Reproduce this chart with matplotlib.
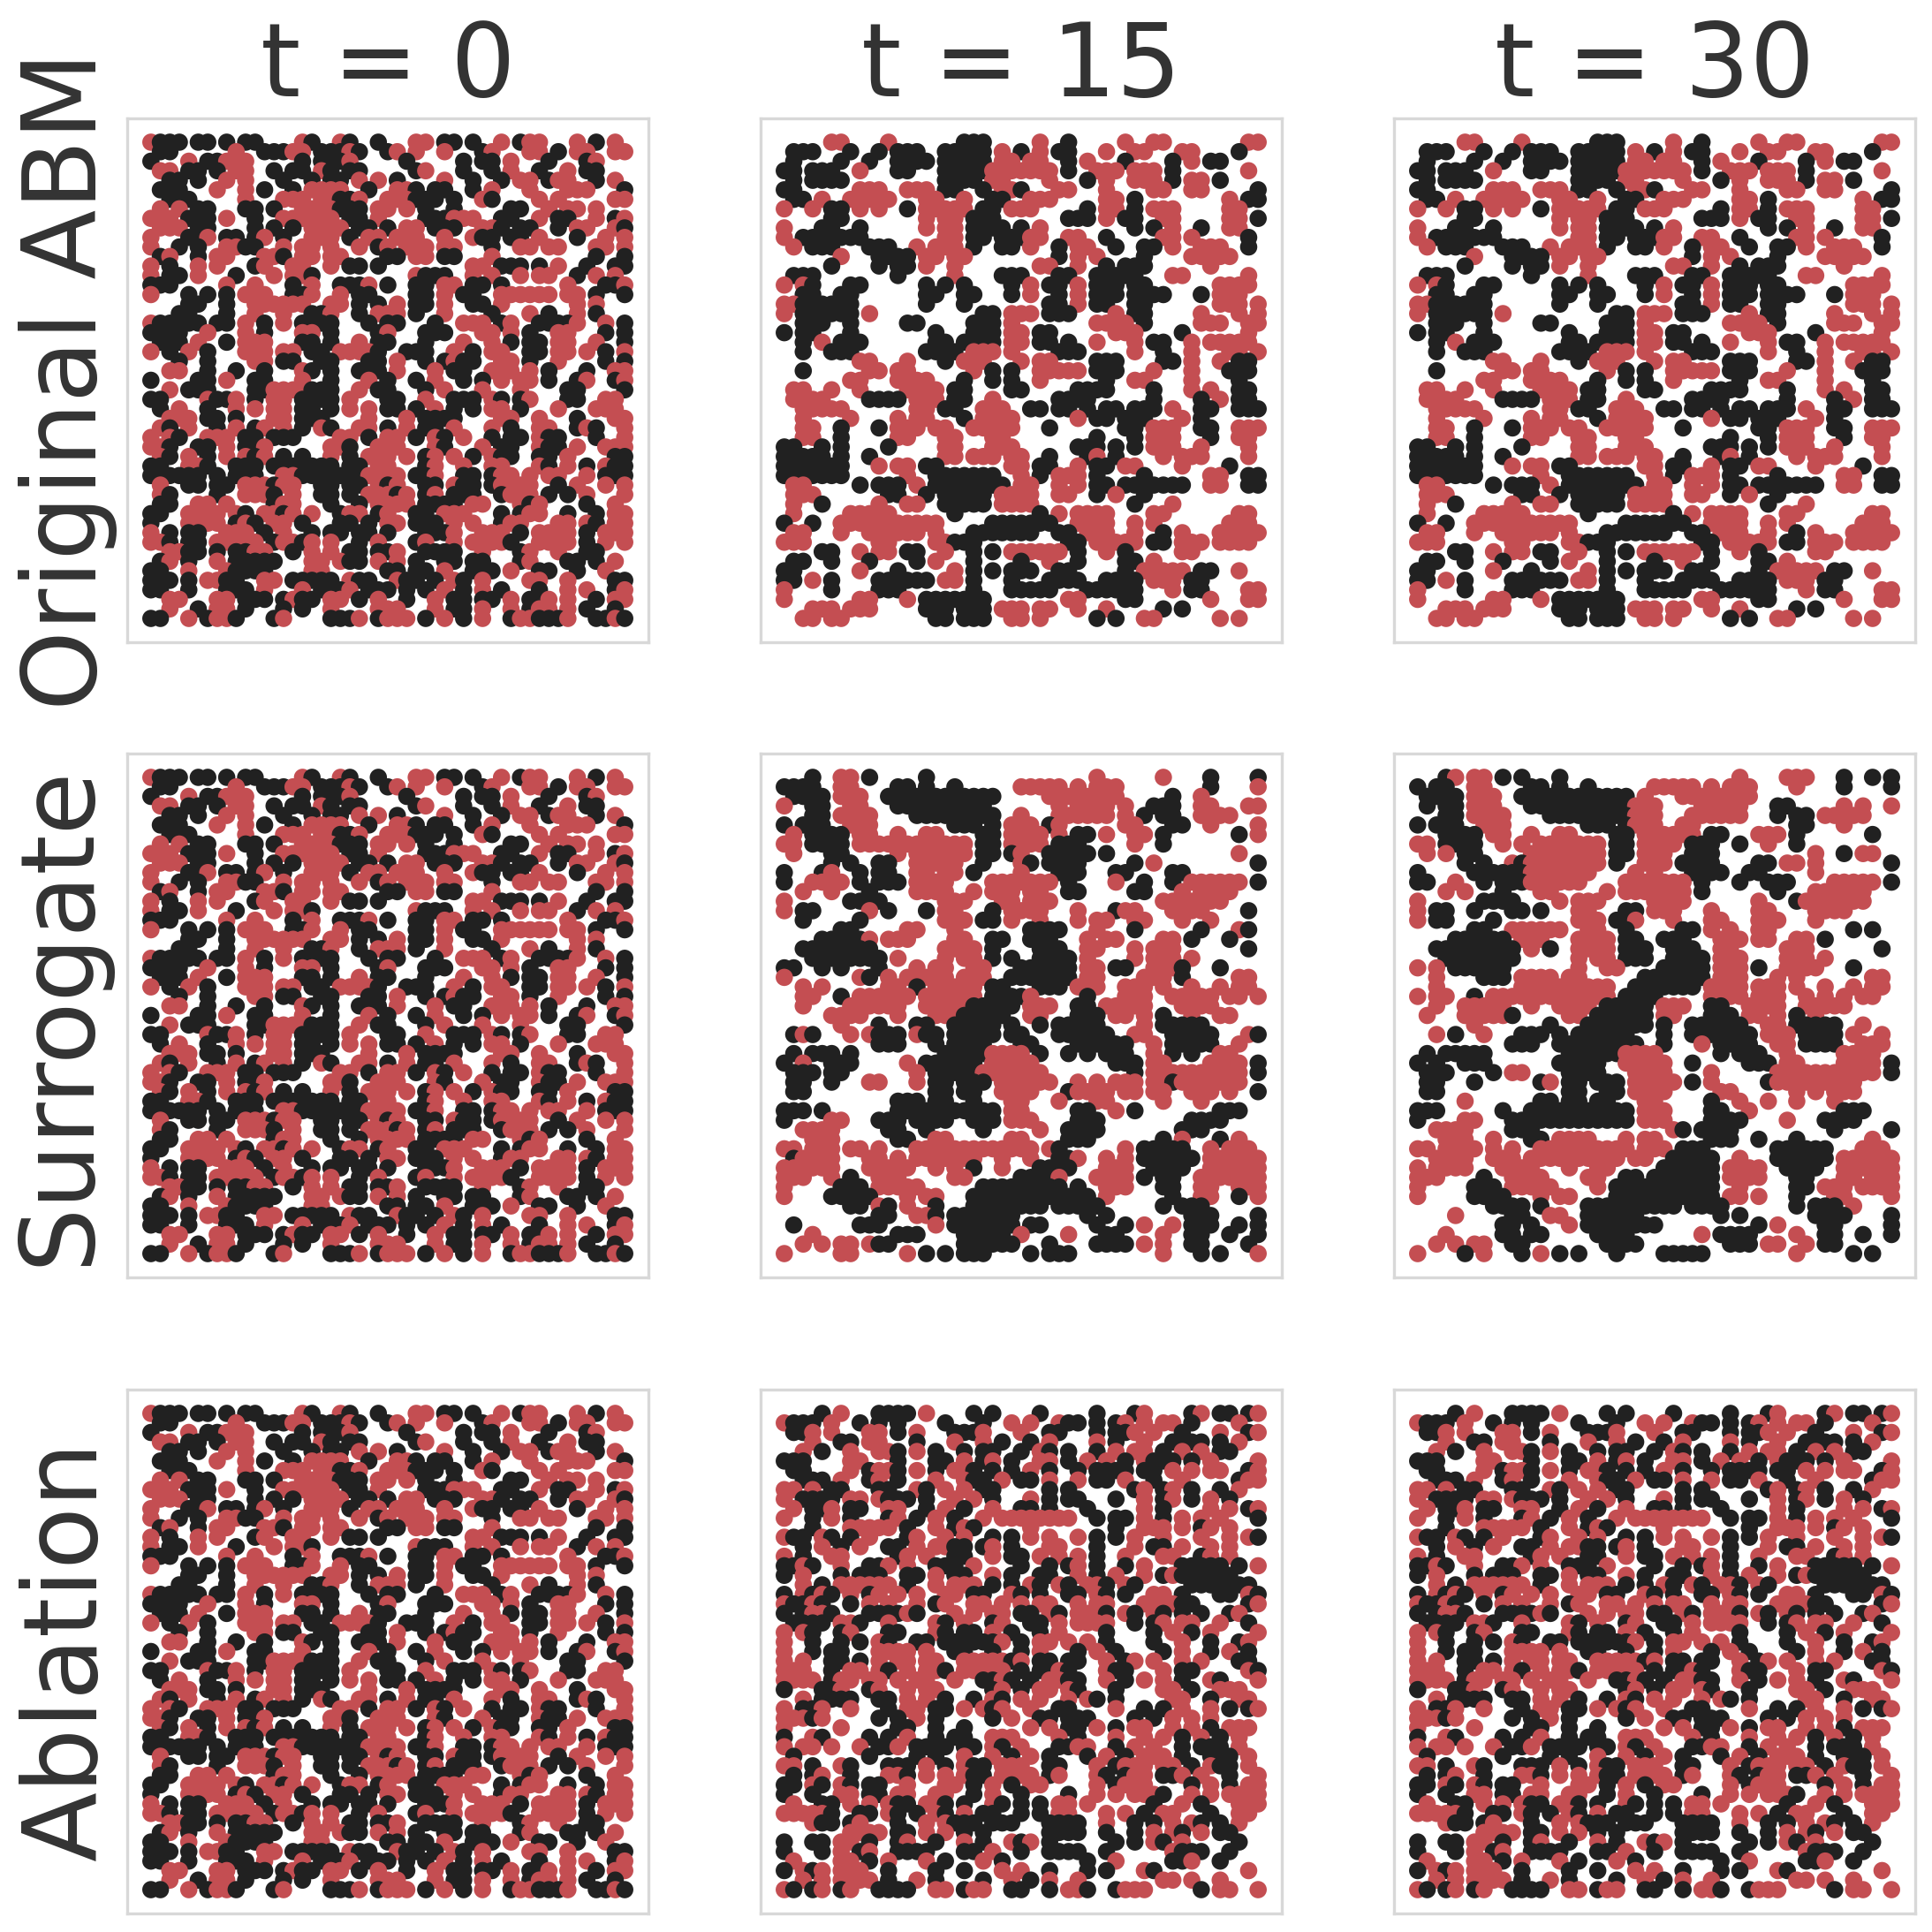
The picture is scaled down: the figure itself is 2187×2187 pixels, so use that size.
import matplotlib
matplotlib.use('Agg')
import matplotlib.pyplot as plt

# grid cells, top row first: b = black agent, r = red agent, . = empty
# spaces every 10 cells are only there to keep count
init_t0 = [
"rbbb.bb.b. bb....rb.. rb..b...rr .bb.b..r.b rr...r.b.r .",
".bb......r ..bbbrr.bb brb..br.r. .r...br... rr.b.rr..r r",
"b...r.bbrr r.....b.bb br.....b.. ...b.bb.r. ..b...br.. .",
".rr.bb.b.r r..b.bb.rb .bb.....br ...b..b.r. .b..r.bb.. .",
"..bb.b..r. r...b..b.b b.r.r.b... .r..b..b.r r.brr..b.r .",
".bbb...r.. r.b..b.rrr r..b..rrb. bb..b.r... r...rrr... b",
"..bbb..... r...rrr.rr bbr..rrrbb b.b..rb... .r.r.....r r",
".r.r.bb... bb.b..rrrr bbb.rr.r.b ..b.....bb ..r.rr.r.. .",
"rrr.bbb.r. .b..rrrrrr .bb.r....b bbrrr..bb. .r.bb..r.b r",
".rrr.bb... .b.b.b.rrr r.bb.b.rr. bbb..rrb.b b..b.rr..r b",
"r...bbr.bb .br.b..rrr .b.rr.rrr. .r..rbb.bb .r...b..r. r",
"r..b.b..rr bb..r.rr.r ..r.br.rrr .rr...b..r r.rr...rr. r",
".br..b.rr. ..rrb.rr.r r....bb.rr .bb...r... .......b.. b",
"r.b..r.r.. .br..rr..r .bb.b..... ....rr.bbb .b.r..b..b b",
"r.bb.r...b ...r.rrb.. ........rb bb..r.r..r .rr..b.r.r .",
"bbb.....r. .r...b.r.. bbbr.b..bb .rr.bb.b.. ....r...bb r",
"r...b.b.b. rrr..bbr.. r.bb....bb .r.bb..rrr rrr.rr.b.. b",
"....bb..b. .rrrrrr..r r.b.b.r.bb .r..bb.r.. .....r.r.. .",
"...bb...b. .r..r..bbr ..b.rrr.b. .r....b... r.b..r.b.. .",
"rbbbbb.bb. r.b.r.bbbb ...b.bb... b..rrr.br. .bbbbr..r. b",
"bbbb..r... r.b...rr.b ....br...b bb...rr.r. b..rr...b. b",
".bbb.r..b. rrr...bb.b ..r.bb...b ...r..r.b. bb.rr..r.. b",
"r.b.r.b... rrr.rr.bb. rrrrb..bbb ..r.b.rr.. bb.rr.r.b. r",
"...b..b... .rr.bb..bb ...bb.r..b .brbb..rr. b..r....b. b",
"..rr..b..b ..b...rb.b ..bbb.r... r.bb..rrr. r.b...b..r r",
"b....bb.r. .bb...r..b ...r.b..b. r..b.b.r.r r.b..br..b r",
"..r.bbb... .bbrrrrbbb ..r.bb...b .r...r...r ....bb.... b",
"bb....rbbr .b.rr.bbbb .r...bb..r ..bbb.rb.b r...bb..rr .",
".b.r..b..r .r.rr.bb.b .r.r.bb.b. r.b.b.rr.b ...r...rrr .",
"..rrr.bb.b ...rr.bbb. ...r...r.b bbb....rr. .r...b...r r",
".rb.r..b.r .br.r.b.rb ..rr.b.r.b b.r...r.b. .rr..brb.. r",
"r.rb..rrr. bb.bbb.... rr.b.rr.b. rb.r..b.bb .rbb...b.. r",
"rrb..bb.r. bbr......r rb..rrr... rb...r.bb. .rbb.r..rr r",
".rb.r.b.r. rbr.b.b..r .b.rrr.r.b r.r.b.rbb. .bb.r....b b",
"bb..rrb..b bb.bbbbbbb .bb.rr...b r..r..rr.. .rb.r.b.rb b",
"bbbbbb.b.b bb..rrbbbb bbbrrrr.bb r..bb.brr. r.rr..r.bb b",
".r..bb.bb. rrrbrr..bb .bb.rbr..b b.rbb.brrr r..b.r..r. r",
".rb....b.. rrrb.r..bb .b.rrrbr.b r.bbb..brr r.b.b.r... r",
".bb..rr.r. ...brr...b ..b.rrrr.b bbb.rr...r br....b..r .",
"bb..rrrr.r b.rrbr.r.. brr.br..bb .rrr...b.b rr..b..b.r r",
"b...rrrr.b rb.rr.b... bb.b.rr.bb b.r.r..brr ...rr.rb.r r",
"r.b.bb..rr r.b.r..b.b b.bb.b...b bbr..rrr.b .rrrr.b.rr r",
"rrb.bb.rrr rr.brrbr.r ..b.r...br ..r.rrrrb. .rrrr.b.r. r",
"..rrbb.b.b brr..b.r.r .bb.bbr..b bbb..r...b r..r..bb.. .",
".br.b..r.b bbbb...rr. rbb.r.r.b. .bb.bb...b r...bb.b.r .",
"bb..r...rb bbb....rr. .....bb.bb .r..bbb.r. .bb..b..r. .",
"bbb.b.rrbb ..rr.bbbbb .rbb..rbb. b.rb.r.... rr..r....b b",
"bb..b...bb b.r...r.bb br.bbb.b.b .r.b.r.b.. .b..r.r..b r",
"..rr...rr. bbb.brbb.r r.b.r..b.. r.bb.bb.r. bbr.r..b.r r",
"..r..b.rr. b...b.b..r ....rrr... r.bb.r..r. brr.r.b..b .",
"bb..r.brrb ...br....b bbr.brrr.b .r.b.r..br rbbbr..bbr b",
]

orig_t15 = [
".....rr... .r.......b bb.....r.. b.....r..r r........r r",
".bbb...b.. b.bbb..bbb bb.r.b.r.b b...r..rr. ..rr....b. .",
".b....b..b ..bbbb.bbb bb.rr.rr.. b.r...b... .b.r.bb... .",
"bb.bbb..r. ..bb...bbb bbrrrrrrr. b..rrr.rrr .b.......r .",
".b.bbbb... .......bbb b.rr....r. ..b.r..rrr .b.rr.b... .",
"bb......rr r..rrr.bb. .b.rrb...r r...r....r r..rr..... b",
".bb.r..rrr rr...rr..r ..bb..rrr. ....rr.b.. .......r.b b",
"r..r.bb.r. r..b.rrrrr .bb.rrr... ..b.rr.b.r rr.....rr. .",
".....bb... .....r.rr. bbb....... bbb.r.bb.. rr.....rr. b",
"r...bb..b. .....r.rr. bbbb.b.r.. .......b.b .r..b..rr. .",
"r.bbbbbbb. .......rr. bb.bbbrr.. rr..b..... rr.r.....b .",
".r.bbb...b bb..r.rrr. b..bb.r..b .rr..b..bb .r..rrr..b .",
"......r... bbbb.rr.rr .........b .r.r....b. ...rrrrr.. .",
".....b.... b.bb.r..r. .......rr. .r..b.bbb. .....r.... .",
".bbb...... ..b.....r. ...bbb...b b..bbbbb.. .rr......r .",
"r.rb...bb. .....b.b.b ....b.r.bb .r.bbb.bb. ......rrrr .",
"..bb..bb.. .....bb..b b...b.r..b .r.bbb.bbb b...b.rrr. .",
"rrbbbbbb.. .....b...b ........bb .r.bb..bb. ......rrr. r",
"r.bbbbbb.r .......... .bb.rrr.bb b....r.bb. ....r...r. r",
"..bbb..b.. ...bb..... bbb.r..... ...rrrr.b. ....rrr..r r",
"b.bb...b.. ......b... bbb.rr.bb. .....rrr.. ..b......r .",
"..b.r.bbb. ......bb.b bbb.rr.bb. b..r...r.b b..r.rrrrr .",
"..b..bbb.. .....bbbb. rrr.r....b bb.....r.. b..r...rr. r",
"........rr ...r...b.r rr...r.rr. ...bbb.... bb.r..r.bb .",
"..b......r r.rr...... r.b.b..rrr rr.bbb...r ...r...bbb .",
".......rr. ..rrrr...b ..b.b..r.. ....b..rr. ...r....b. .",
".rr..r..r. ...rrrr.bb ....bb.... .bbbb....b ...r.r..bb .",
".rrrr....b bbb.rrr.bb ..r......b bbb......b ....b.r.bb .",
"..rrrrr... ....rr.bb. .rrr..bb.b b.b.bb.bbb .r..bb..bb b",
"..r....r.. ..r.rr...b .rrrr..... .r.bb.bbb. ..r.b..... .",
"..rr..b... b.rrr.rr.. rrrrr...b. ......bb.r rr..bb..rr r",
"..rr..b... ..rr...rr. ..rr...... ...b...b.r rr...b..rr .",
"bb..b.b... .b.....rr. ..rrr..... .bbb.b.b.r rr..r....r .",
"bbbbb.b..b .......rr. rrr.rr..b. ..br.b.... r.rrr....r .",
"bbbbbbb... r.rr.bb... ....rr.bb. .r.bb.rr.. ..r....b.. .",
"bbbbbbb... ...r..bbbb bbb..r.b.r rr.b....b. .....rr..b b",
".rr.....b. bbb.r.bbbb bbbb.rr..r .r.bb.bbbb bbb..rr..b b",
".rrr...... .bb..b.bbb bb.rrrr..r r..b.r..b. .......... .",
".r..b..... r..rr..bbb bb.rrrr... .......b.. .r........ .",
".r.....rrr rr......b. .......b.r .rrrr....r r.......rr .",
"b..b..rrrr rrrrrrr... ..bbbbbbb. .rrrr..r.r .......rrr .",
".rr...r..r rrrrr.r... bbbbbbb..b b.rrr..r.. b.r...rrrr r",
"rrr....... rr....rrbb b......... bb.rrrrr.b b.rrr.rrrr .",
"....bb..r. rr.bb..r.. b.b.rrrrrr .b..r.b... ..rr...... .",
".bb..b...b ....b.r... b....b..r. .b....bb.r .......... .",
"bb......r. ..b.....r. b.b.bbb..b b.....b.rr rrr.bb..r. .",
"bb.r.b.... bbbbbb.rr. b...b...bb bb..bbbb.r rr.bb..... .",
"r....b.... bbb....... b...bbbbb. ..bbbbbb.. .r.bb....r r",
"r.......rr ...r.bbbbb bb........ rr....bb.. .....r...r r",
"...rrr.rrr .....bbb.b bb.rrr.rr. .r..r..... b.b....... .",
"..rr.rr... ......bb.b bb..rr.r.. ...b.b..rr ......r.r. .",
]
orig_t30 = orig_t15  # almost no change between these two panels

surr_t15 = [
"...b..rr.b .....b.... .......... ...r...... r....b.... b",
"bbbb..rr.. ..bb.b..b. .....rrrrr .r.rrr.... .....b.... r",
".bbbb.rrr. .bbbbbbbbb bbb.....rr rrrrrr.... .b..r..... .",
"r..bb..rr. ..bbbbbbbb bb.......r .rrrr.r..b bb..rr...r r",
"...bb.rrrr ....bbbbbb bbb..r...r rrrrr.r.b. bb..rrrr.. .",
"b.bbb..rrr ........bb b.b.rrr.br ......rr.. .bb..r.... r",
".r.bbbb.rr ..r..rr... .bb.rrrr.r .bb.r..rr. b.......b. r",
"rr.bbbb.rr rrrrrrrrrr .bb.rrrr.b bb.....r.. b......... .",
".r...bb... ..r.rrrrrr .bb.br..bb bbb.b..... ........r. .",
".....b.b.. bb..rrrrr. .b...rb.bb bb.....b.r .......... b",
"b...br..b. bb..rr.rr. b....r...b bb...bb... .bb....... .",
"b..rrrr.b. bbb.rrrr.. ..rrrrrrr. b....r..b. .b.rrrrrr. b",
"..r..r...b ....rrrr.. r.rrr.rr.. bb.....bb. ..r.rrrr.. .",
"r......bbb b......rrr ...rr.rrr. .......... rrrrrrr... .",
"r.bb.....r .b...b.rr. ..b.rrrr.. .r...brr.. .rrrr....b .",
"..b.....b. .......rrr .bb.r..r.. .r.rr..rr. ..r..r.... .",
"......bb.. ...rr...r. ......bbbb ...r...b.. ....b...rb .",
"....bbbbbr .rrr....rr ..bb..bbb. ..r.rr.... rr.b...b.. .",
"..bbbbbbbb .......rrr r.b....bbb ..rr...r.r rr.......b .",
"...bbbbbbb b.r....r.r r.b.b..bbb b.r....r.r rr.r...... .",
"bb..b.b... b...r.rr.. rr...bbbbb b.rr.bb..r rrb...b... .",
"r.......rb .r.rrrrr.r rr..bbbbbb b.rr....rr r.b.....rr .",
"..r.r..... .rr.b.rrrr r.bb...bbb .rrr..rrr. r..r..r.rr .",
"..rr..b.rr rrrr.rrrrr r.bbbbr... ..b...rrr. .rrrrr.rr. r",
"..r....rrr rrr..rrrrr bbbbb.rrr. .bb.rrrrr. ..rrrr.... .",
".....rrrr. ..r...rrrb bbbb..rr.. .bbb.rr.r. b..r..rr.. .",
"......r... b...bb..bb bbb.b..b.b bbbb....r. bbbbb..... .",
".brb...r.r bbb.rbb.bb bbb.bb...b bbbbb..rr. .bbbbb...r b",
".......... bbb...b.bb bb...bb... .bbbbbb..r .bbbbb..r. .",
".b.bbb.b.. .......bbb bbrrrr.b.. b.b.bbb..r .b.b..rr.. .",
"b.r..bbb.. ...r.bbbbb b.rrrrr... .....bbb.r r....rrrr. b",
".bbb.bb... ....r.bbbb brrrrrrr.. .......b.r rrrrrrrrr. b",
".bb..b...r r...r.bb.b bb.rrrrrr. .r.r.rrr.r rbrrrrrrr. .",
".bb....... ......bb.b b..rrrr... brrrr.rr.r r..rrr.r.. b",
".......... ..bbb.bb.. b...rr...r ...rr..... r...r..... .",
"bbb.b..... ..bbbbbbbb bbb.rr.... .bb..r.b.. ......bbb. .",
"b....rr... bbb.bbbb.. bbb.rrr... .bbb...... ...bbbb... .",
"..rrrr.... .bb..b.... .b.....r.. bbbb...... ..bbb..... .",
"...rrr.... ..bb..rr.. ....rr.... bbb....... b.r...b.r. .",
"rr.rrr.rr. r...rrrrrr rrrrrrr.rb ......r.bb bbb..r.rrr .",
".brrrr...r r.r.rrrrrr r..r..r..b br..r.r.bb bbbb.rrrrr r",
"rrrrrr...r rrrr..r.r. b..r...bbb b...rrr..b bbb..rrrrr r",
"rrr..r.b.. rrr.....rr .....bbbbr ...rrrr.b. bb..rrrrrr r",
"r.....bbb. rrrrr..... .bbbbbbbbb .b..rrr... bb..rr..rr r",
"r....bbbbb ...r.rr... bbbbbbbbbb bbb.r..... .b..rr..b. r",
".......bb. rb.r..b... bbbbbbbb.b bbbb...... b.bbb..... .",
".......... bb..rrb.bb bbbbb..... ..b.b..... ...bbb.... b",
".b......bb b.....r.bb bbbbb.bb.. ...b..b.r. .r.bbb..b. b",
"...r...... ..bbb....b bbbb.r.... r...bb.... r..bb..b.. b",
"..r.r.rr.r bb.......b bbbbb...b. ...bbbb.r. r..bb....b .",
"r.....rr.. ...r.b.b.b bb....b.bb b......... r...b.b... r",
]

surr_t30 = [
"...br.rr.b .b...b.... .......... ....r....r rr...b..b. b",
"b.bb..rr.. ..bb.b..b. .....rrrrr .r.rrr.... r....b.... b",
".bbbb.rrr. .bbbbbbbbb bbb.r...rr rrrrrr.... .......... .",
".b.bb.rrr. ..bbbbbbbb bbbrrr.... rrrrr...bb .....r.r.. r",
"...bb.rrrr ....bbbbbb bbbrrr...r rrrrr...b. bb.rrrrr.. .",
"b.bbb..rrr ........bb b.brrr..rr .......... bb...r.... .",
"...bbbb.rr ..r..rr... .bb.rrrrrr .bb...rrr. b.......b. .",
"rr.bbbb..r .r.rrrrrrr .bb.rrrr.b bb..b..r.. b......... .",
".r.r.bb... ..rrrrrrrr .bb.rrr..b bb........ ..r..b.rr. .",
".....b.b.. rbrrrrrrrr .b..rrr.bb bb....bb.r r.r....... b",
"b.....bbbb bbrrrrrrr. ...r.r...b bbb..bb... ..r....... .",
"bb..r..b.b bbrrrrrr.. ..rrrrrrr. b...b..bbb ....rrrrr. b",
"...r.r...b ...rr..... r.rrrrrrr. b.......b. ..rrrrrr.. .",
"r......bbb b....r.rrr .....rrrr. ......r... brrrrrrr.. .",
"r.bb..b... bb.b...rr. ..bb.rrr.. .r....rr.. ..rrrr.... .",
"r.bb....b. .......rrr .bbr...r.. .rr...rrr. ..r....... .",
"......bb.. rrrrrr..rr ..b.....bb .r.r..rr.. ......b.b. .",
"....bbbbbb .rrr...rrr r.bb..bbb. ..rrr.rr.. rr.b...... .",
"..bbbbbbbb b.r.b..rrr r.bbb..bbb ..rr.....r rr.......b .",
"...bbbbbbb b......r.r r.bbb..bbb b.rrr....r rr.r...... .",
"r.r.bbbbbb .......r.. rr....bbbb b.rrr.b..r rrr...b... .",
"..r....bbb .rrrr.rr.. ....bbbbbb b.rrr...r. r.......rr .",
"..r....... .rrrrrrrrr r..bbbbbbb .rrrr.rrr. r..r..r.rr .",
"r.rr..b.rr rrrrrrrrrr r.bbbb.... .rrrr.rrr. .r.r.r.rr. .",
"..r..rrrrr ..r..rrrr. bbbbb.rrr. .bb..rrrr. .rrrrr.... .",
".r...rrrrr b.....rr.b bbbbb.rr.. .bbb.rr.r. b.r....... .",
"......r... ....b...bb bbbbb.b..b bbbbb..rr. bbbbb..r.. .",
"..r.b..r.. .bbb.b.bbb bbb...b..b bbbbbb.rrr .bbbb.r..r .",
".......... bbb..bbbbb bbbb..b... r.bbbb..rr .bbbb..rrr .",
".b.bbbbb.. ......bbbb bbrrrr.... ..b.bbb..r .....rrrr. .",
"b.b..bbb.. .....bbbbb ..rrrrr..b .....bbb.r r....rrrr. b",
".bbb....b. rr....bbbb ...rrrr... .r......rr rrrrrrrrr. b",
".bb...b... ...br.bb.b bb.rrrrr.b .r.....brr rrrrrrr... .",
".bb....... ......bb.. bb.rrrr... ..rr...... r.r.rrr... .",
".....r.... ...bb.bb.b b...rr.... .b..r..r.. r...r..... .",
"bbb......b ..bbbbbbbb bbb.rrr... .bb..r.... .....bbb.. .",
"b....rr... bbbbbbbbbb bbb.rrr... .bbbb....r ...bbbb... .",
"..rrrr.... bbb....... .......rb. bbbb...... ....b..... b",
"...rrr..r. ..bb.rrrr. ..r.rr.... .bbb..b... b.......r. .",
"rr.rrrr.r. r..rrrrrrr rrr.rrr.bb b.......bb bbbb...rrr .",
"..rrrr..rr r.rrrrrrrr rr.rr..bbb bb..r...bb bbbb.rrrrr r",
"r.rrrr...r rrr...r..r r.....bbbb bb.rrrr..b bbb..rrrrr r",
"rrr....b.. rrrr....rr ..bb.bbbbb bb.rrrr... bb...rr.rr r",
"r.....bbb. rrrrr....r .bbbbbbbbb bb..r..... bb.rrr.rrr r",
"r.....bbbb ...r.rr... .bbbbbbbbb bb.rr.r... b...rr.... r",
"........bb bb.b....bb bbbbbbbb.b bbb....... b.bbb.r... .",
"....r..... bb..rr..bb bbbb...... ..b.b..... ..bbbb.... b",
".........b b.b...r.bb bbbbbb.... ......b.r. ...bb..... b",
"...r.....b b.bb.....b bbb....... r.bbbb.... r..bb..b.. b",
"..r.r.rr.. bb........ bbbb...... ...bbb.rr. .r.bb..... .",
"r....b.r.. .b.r.b.b.. .b....bbbb b......... r.....b.b. .",
]

abl_t15 = [
"....b.r... bbbb.r.... b.b....b.. ...b...br. ...br.bb.b r",
"rbbb.r..b. b.b....b.. .b..r.r..r bb.b.br.r. rr.b....r. .",
".bbr.r...r r.b.r...bb br...r..bb ...b.bbr.r ..b...r..b r",
"...r..bb.r r...b...r. .r.b..b.r. ...r.b..r. .bbbb.b.r. .",
"..r.b..r.. rrb.r.b..b .bb..b.rb. b..b.r.rr. b.r.r.bb.. .",
"bbb....rr. ..b...bb.r .br.b..rr. b.r.r.b.rb bb.b.r.... r",
".bb....r.b rrb.r.b.rr b.b.b.r.b. .b.bbbb.bb .r.r.rr..b r",
"..bbb.r..b r.b...r..r bb.r.bb.r. .r.bb.r..b ..r.....br r",
"rr.r.bb... bb..rb.r.r .bb.....b. b......br. br.b..b.r. .",
"r.bbbb.rr. rbbb.b..r. r.b...r.b. bb...b..r. br.b.r.b.. .",
".r.bbr.bb. .rr..b.r.b ..r..bb.b. ..b.....r. b....r.r.b r",
"r..b.r.b.. .br.b.r.b. .r.rrrrrrr r..b.bb.r. b.r.r.r... b",
"...b...rrr rr.b..r.br b.....r... .....b..rr r.r.br.r.. .",
"rbb.rb.b.r ...br..r.r ..b.b.r.r. .r.b.b.r.. r...r..r.r b",
"..b.r.b.r. .bb.r.rrbb .br.b...rr ...b...r.b b.r..r.r.. .",
"r.b..rr... ..br.r..bb ..r.bb.r.r .r.b..r... rr..br.r.. .",
"bbrb..r..b br.r..bbb. r....b..b. br.b..b.r. ..bbbbb.b. r",
"b.r...b.bb b..bb.r.bb ..r.b..bb. .r.b.r..r. brbbbbbb.. .",
"..r.b.rrrr rr.b..r.rr r.b.b.rb.r b.rrb.rb.. ...bbbbbbb .",
"b.rbrb.r.b r.r.r..rr. bb..rb.b.. bb.rb.b..r r.b...bb.r b",
"rbbrb..b.r .r..r.br.. rr.r.r.rr. .r.rr...rr rrbb.....b r",
"b.brrb...b bbbrb...r. r.rr.bb.rb .rrrb.rb.r b.b.b..br. .",
".bbbb.rrb. .r....rb.r ..br..bb.r .rrrr..b.b r.rr..r..b .",
"r.rb..br.. .bb...rb.b b.r.b..b.r ....b....b .r.b.r.... r",
"r..b..b.b. rb..bb.bbb bbbr.b.rr. r.r.b....b ..r..b..br .",
"r..b.bb... rrrr.r..bb ..b..b.r.. .b.r.b.... b.r..b.r.b .",
"r.r..bb.b. r.rr.rr..r rrrrbr.bb. bb..r.br.r ..r.r...bb .",
"rrr..b.rr. rb.r.rrb.r rrrr.b.bbr b...rbb... r.bb.....r b",
"rrrr.brr.r r.r.rr..r. .bbrb.b.rr bb..r.b.r. r.b..rb... r",
"b...bbr..b r..r.rr... ..br.b.rr. rb...b.... rr.b..rrr. .",
"..r.bbbb.. bb.r.r.b.. b.rb.r.r.. r.rb.b.... .rr..b..rr .",
"r.bbr..r.. .b.rr.bb.r .rbr..r..b b....r..b. b.r..r.b.b r",
"rrrbr..... b.b.r.b... ..b.r..bb. bbb....b.b .r.r.r.... .",
"r.....r... ..bb..b..b ......r.r. bb.r.b.rr. .r.r.b.rrr .",
"b..rb....b .b.r..b.bb ..rrr....r .b...r..r. r.b.r.b.r. .",
"r.rr.r..r. bbr.bbbb.b b.rb.r...b brr..b.r.r ..b.bbb.r. .",
".b.......b ....b.b..r ..r.b.r.b. ..b.r.b.rr r.b..bbb.r .",
"rr.b..rb.. .bbb.r.b.r bb.rrr..bb ...r.brrr. rr.b.rbb.r .",
".b.br..b.. .rrb.r.r.r bb.rrrr.br ...rb.brr. bbr.r..b.. r",
"bb.rb.rb.b b..r...rr. b.r.b.rr.. ...r.brrr. ...b.r.b.r r",
"b..b..rr.b b.rr..rr.. b.r..b.... b..r.r.rrr b..r.r.rrr r",
".r..bb.r.r .rbb.rrb.b ..rb.b.b.r r.r......b ..r.b...rr r",
"rrrrrb..bb .rb.b.rb.r .bb..b.b.r r...r.r.b. rr...b..rr .",
"...rbb.br. ..b..r.rbb b.bbb...bb bb..r..b.b .r.rb.b.r. .",
".......rrr r.bb.r.r.b .b......bb bb..b..b.r .rb.r.bb.. .",
"b..bb.rr.b ..br..b..r .b..rbr.b. .....b.b.r b.r.....b. .",
"b...b.r.br ..bbbb...b b.r..b..bb bb..b..... .rbbb..b.. .",
".r....rr.b .r...r.b.. .r.b...... ..b..r.... .bbr..b... .",
"b.rbr.rrr. .b....b..b ...r.r..b. ..b.b...rb .........r .",
"..r.r.rrrr .b..r.b... .b..r.b.r. .r........ rr.r..r... .",
"rb.br.br.. bbbb..rr.b rr..bb..b. rrb..brrr. ....b.rr.. r",
]
abl_t30 = abl_t15  # these two panels are almost the same as well

col_titles = ['t = 0', 't = 15', 't = 30']
row_titles = ['Original ABM', 'Surrogate', 'Ablation']
panels = [[init_t0, orig_t15, orig_t30],
          [init_t0, surr_t15, surr_t30],
          [init_t0, abl_t15, abl_t30]]

colors = {'b': '#212121', 'r': '#c44e52'}
text_color = '#333333'
frame_color = '#d8d8d8'


def cells(rows):
    xs, ys, cs = [], [], []
    for r, row in enumerate(rows):
        for c, ch in enumerate(row.replace(' ', '')):
            if ch in colors:
                xs.append(c)
                ys.append(50 - r)
                cs.append(colors[ch])
    return xs, ys, cs


W = H = 2187
fig = plt.figure(figsize=(W / 300, H / 300), dpi=300, facecolor='white')

lefts = [144, 861, 1578]
tops = [134, 853, 1573]
label_x = [109, 99, 109]  # Surrogate comes out further right with the same anchor
ax_w, ax_h = 590, 593

for i, top in enumerate(tops):
    for j, left in enumerate(lefts):
        ax = fig.add_axes([left / W, 1 - (top + ax_h) / H, ax_w / W, ax_h / H])
        xs, ys, cs = cells(panels[i][j])
        ax.scatter(xs, ys, c=cs, s=22, linewidths=0)
        ax.set_xlim(-2.5, 52.5)
        ax.set_ylim(-2.5, 52.5)
        ax.set_xticks([])
        ax.set_yticks([])
        for s in ax.spines.values():
            s.set_color(frame_color)
            s.set_linewidth(0.8)
        if i == 0:
            ax.set_title(col_titles[j], fontsize=27.7, color=text_color, pad=6)
    fig.text(label_x[i] / W, 1 - (top + ax_h / 2) / H, row_titles[i], rotation=90,
             rotation_mode='anchor', ha='center', va='baseline',
             fontsize=27.7, color=text_color)

fig.savefig('out.png', dpi=300)
